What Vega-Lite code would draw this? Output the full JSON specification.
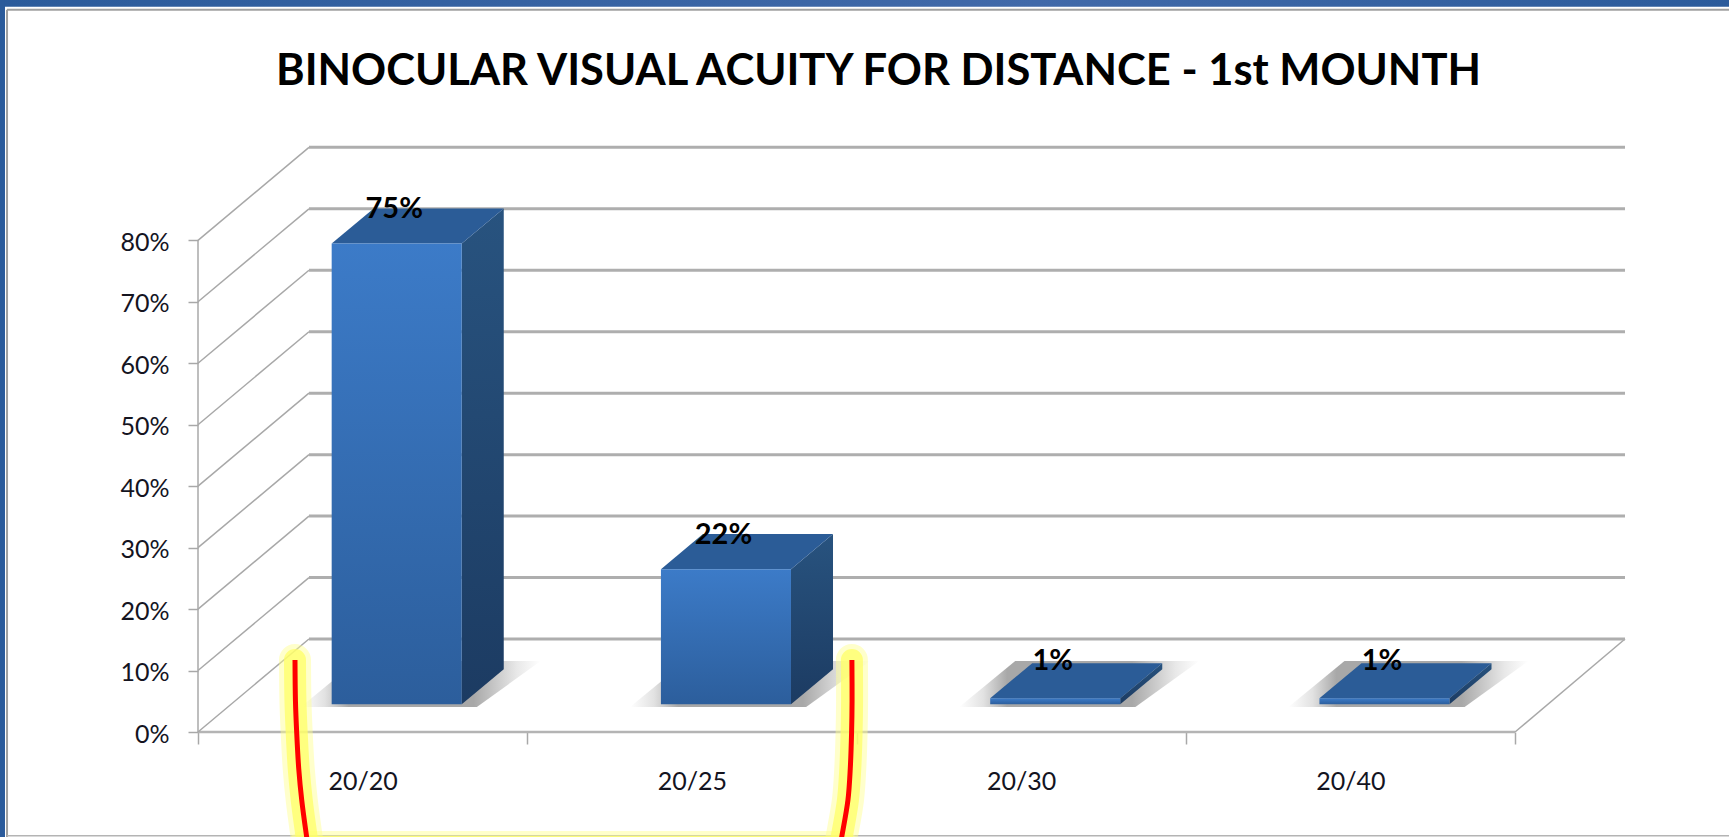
{"$schema":"https://vega.github.io/schema/vega-lite/v6.json","width":1427,"height":586,"autosize":"none","padding":{"left":198,"top":146,"right":104,"bottom":105},"background":"#ffffff","title":{"text":"BINOCULAR VISUAL ACUITY FOR DISTANCE - 1st MOUNTH","anchor":"start","frame":"group","dx":78,"offset":-128,"baseline":"alphabetic","font":"Lato","fontSize":43.5,"fontWeight":"bold","color":"#000000"},"datasets":{"bars":[{"category":"20/20","value":75},{"category":"20/25","value":22},{"category":"20/30","value":1},{"category":"20/40","value":1}],"levels":[{"level":0},{"level":10},{"level":20},{"level":30},{"level":40},{"level":50},{"level":60},{"level":70},{"level":80}],"bracket":[{"s":"left","o":1,"u":0.2946,"p":11.7},{"s":"left","o":2,"u":0.296,"p":5},{"s":"left","o":3,"u":0.2998,"p":-0.16},{"s":"left","o":4,"u":0.306,"p":-6},{"s":"left","o":5,"u":0.315,"p":-11.06},{"s":"left","o":6,"u":0.33,"p":-17.08},{"s":"left","o":7,"u":0.338,"p":-20},{"s":"bottom","o":1,"u":0.32,"p":-18.7},{"s":"bottom","o":2,"u":1.96,"p":-18.7},{"s":"right","o":1,"u":1.986,"p":11.7},{"s":"right","o":2,"u":1.9865,"p":5},{"s":"right","o":3,"u":1.985,"p":-0.16},{"s":"right","o":4,"u":1.981,"p":-6},{"s":"right","o":5,"u":1.974,"p":-11.06},{"s":"right","o":6,"u":1.955,"p":-17.08},{"s":"right","o":7,"u":1.945,"p":-20}]},"layer":[{"data":{"values":[{}]},"mark":{"type":"rect","color":{"gradient":"linear","x1":0,"x2":1,"y1":0,"y2":0,"stops":[{"offset":0,"color":"#2b5b9b"},{"offset":0.6,"color":"#4169a9"},{"offset":1,"color":"#2b5b9b"}]}},"encoding":{"x":{"datum":-0.6014,"type":"quantitative","scale":{"domain":[0,4.334]}},"x2":{"datum":4.65},"y":{"datum":119.1,"type":"quantitative","scale":{"domain":[0,95.35]}},"y2":{"datum":118}}},{"data":{"values":[{}]},"mark":{"type":"rect","color":"#2b5b9b"},"encoding":{"x":{"datum":-0.6014,"type":"quantitative","scale":{"domain":[0,4.334]}},"x2":{"datum":-0.5862},"y":{"datum":119.1,"type":"quantitative","scale":{"domain":[0,95.35]}},"y2":{"datum":-17.1}}},{"data":{"values":[{}]},"mark":{"type":"rule","color":"#a0a0a0","strokeWidth":2},"encoding":{"x":{"datum":-0.58,"type":"quantitative","scale":{"domain":[0,4.334]}},"x2":{"datum":4.65},"y":{"datum":117.5,"type":"quantitative","scale":{"domain":[0,95.35]}}}},{"data":{"values":[{}]},"mark":{"type":"rule","color":"#a0a0a0","strokeWidth":2},"encoding":{"x":{"datum":-0.58,"type":"quantitative","scale":{"domain":[0,4.334]}},"y":{"datum":117.5,"type":"quantitative","scale":{"domain":[0,95.35]}},"y2":{"datum":-17.1}}},{"data":{"values":[{}]},"mark":{"type":"rule","color":"#b4b4b4","strokeWidth":1.5},"encoding":{"x":{"datum":-0.58,"type":"quantitative","scale":{"domain":[0,4.334]}},"x2":{"datum":4.65},"y":{"datum":-16.9,"type":"quantitative","scale":{"domain":[0,95.35]}}}},{"data":{"values":[{}]},"mark":{"type":"rule","color":"#a8a8a8","strokeWidth":1.5},"encoding":{"x":{"datum":0,"type":"quantitative","scale":{"domain":[0,4.334]},"axis":{"values":[0,1,2,3,4],"title":null,"grid":false,"domain":false,"tickColor":"#a8a8a8","tickWidth":1.5,"tickSize":12,"labelExpr":"['20/20','20/25','20/30','20/40',''][datum.value]","labelOffset":164.6,"labelPadding":37,"labelBaseline":"middle","labelFontSize":25,"labelFont":"Lato","labelColor":"#14141f","labelFlush":false,"labelBound":false,"labelOverlap":false}},"y":{"datum":0,"type":"quantitative","scale":{"domain":[0,95.35]},"axis":{"values":[0,10,20,30,40,50,60,70,80],"title":null,"grid":false,"domain":false,"tickColor":"#a8a8a8","tickWidth":1.5,"tickSize":10,"labelExpr":"datum.value + '%'","labelPadding":19,"labelOffset":2,"labelFontSize":25,"labelFont":"Lato","labelColor":"#14141f","labelFlush":false,"labelBound":false,"labelOverlap":false}},"y2":{"datum":80}}},{"data":{"values":[{}]},"mark":{"type":"rule","color":"#b4b4b4","strokeWidth":2.5},"encoding":{"x":{"datum":0,"type":"quantitative","scale":{"domain":[0,4.334]}},"x2":{"datum":4},"y":{"datum":0,"type":"quantitative","scale":{"domain":[0,95.35]}}}},{"data":{"values":[{}]},"mark":{"type":"rule","color":"#a8a8a8","strokeWidth":1.5},"encoding":{"x":{"datum":4,"type":"quantitative","scale":{"domain":[0,4.334]}},"x2":{"datum":4.334},"y":{"datum":0,"type":"quantitative","scale":{"domain":[0,95.35]}},"y2":{"datum":15.13}}},{"data":{"name":"levels"},"transform":[{"calculate":"datum.level + 15.13","as":"back"}],"mark":{"type":"rule","color":"#a8a8a8","strokeWidth":1.5},"encoding":{"x":{"datum":0,"type":"quantitative","scale":{"domain":[0,4.334]}},"x2":{"datum":0.337},"y":{"field":"level","type":"quantitative","scale":{"domain":[0,95.35]}},"y2":{"field":"back"}}},{"data":{"name":"levels"},"transform":[{"calculate":"datum.level + 15.13","as":"back"}],"mark":{"type":"rule","color":"#aeaeae","strokeWidth":3},"encoding":{"x":{"datum":0.337,"type":"quantitative","scale":{"domain":[0,4.334]}},"x2":{"datum":4.334},"y":{"field":"back","type":"quantitative","scale":{"domain":[0,95.35]}}}},{"data":{"name":"bars"},"transform":[{"calculate":"indexof(['20/20','20/25','20/30','20/40'], datum.category)","as":"i"},{"calculate":"[0,1]","as":"d"},{"flatten":["d"]},{"calculate":"datum.i + 0.406 - 0.094 + datum.d * 0.17","as":"sl"},{"calculate":"datum.i + 0.801 + 0.046 + datum.d * 0.194","as":"sr"},{"calculate":"4.07 + datum.d * 7.48","as":"sy"}],"mark":{"type":"area","orient":"horizontal","color":{"gradient":"linear","x1":0,"x2":1,"y1":0,"y2":0,"stops":[{"offset":0,"color":"#ffffff"},{"offset":0.1,"color":"#e2e2e2"},{"offset":0.2,"color":"#a8a8a8"},{"offset":0.72,"color":"#a8a8a8"},{"offset":0.9,"color":"#e8e8e8"},{"offset":1,"color":"#ffffff"}]}},"encoding":{"detail":{"field":"category"},"y":{"field":"sy","type":"quantitative","scale":{"domain":[0,95.35]}},"x":{"field":"sl","type":"quantitative","scale":{"domain":[0,4.334]}},"x2":{"field":"sr"}}},{"data":{"name":"bars"},"transform":[{"calculate":"indexof(['20/20','20/25','20/30','20/40'], datum.category)","as":"i"},{"calculate":"[0,1]","as":"d"},{"flatten":["d"]},{"calculate":"datum.i + 0.801 + datum.d * 0.1276","as":"sx"},{"calculate":"4.5 + datum.d * 5.7","as":"lo"},{"calculate":"datum.value + 4.5 + datum.d * 5.7","as":"hi"}],"mark":{"type":"area","color":{"gradient":"linear","x1":0,"x2":0,"y1":0,"y2":1,"stops":[{"offset":0,"color":"#28537f"},{"offset":1,"color":"#1c3b62"}]}},"encoding":{"detail":{"field":"category"},"x":{"field":"sx","type":"quantitative","scale":{"domain":[0,4.334]}},"y":{"field":"hi","type":"quantitative","scale":{"domain":[0,95.35]}},"y2":{"field":"lo"}}},{"data":{"name":"bars"},"transform":[{"calculate":"indexof(['20/20','20/25','20/30','20/40'], datum.category)","as":"i"},{"calculate":"[0,1]","as":"d"},{"flatten":["d"]},{"calculate":"datum.i + 0.406 + datum.d * 0.1276","as":"tl"},{"calculate":"datum.i + 0.801 + datum.d * 0.1276","as":"tr"},{"calculate":"datum.value + 4.5 + datum.d * 5.7","as":"ty"}],"mark":{"type":"area","orient":"horizontal","color":"#2b5c97"},"encoding":{"detail":{"field":"category"},"y":{"field":"ty","type":"quantitative","scale":{"domain":[0,95.35]}},"x":{"field":"tl","type":"quantitative","scale":{"domain":[0,4.334]}},"x2":{"field":"tr"}}},{"data":{"name":"bars"},"transform":[{"calculate":"indexof(['20/20','20/25','20/30','20/40'], datum.category)","as":"i"},{"calculate":"datum.i + 0.406","as":"l"},{"calculate":"datum.i + 0.801","as":"r"},{"calculate":"datum.value + 4.5","as":"top"}],"mark":{"type":"rect","color":{"gradient":"linear","x1":0,"x2":0,"y1":0,"y2":1,"stops":[{"offset":0,"color":"#3c7bc8"},{"offset":1,"color":"#2c5e9c"}]}},"encoding":{"x":{"field":"l","type":"quantitative","scale":{"domain":[0,4.334]}},"x2":{"field":"r"},"y":{"field":"top","type":"quantitative","scale":{"domain":[0,95.35]}},"y2":{"datum":4.5}}},{"data":{"name":"bars"},"transform":[{"calculate":"indexof(['20/20','20/25','20/30','20/40'], datum.category)","as":"i"},{"calculate":"datum.i + 0.596","as":"l"},{"calculate":"datum.value + (datum.value > 20 ? 10.1 : 10.6)","as":"ly"},{"calculate":"datum.value + '%'","as":"label"}],"mark":{"type":"text","font":"Lato","fontSize":29,"fontWeight":"bold","color":"#000000","baseline":"middle"},"encoding":{"x":{"field":"l","type":"quantitative","scale":{"domain":[0,4.334]}},"y":{"field":"ly","type":"quantitative","scale":{"domain":[0,95.35]}},"text":{"field":"label"}}},{"data":{"name":"bracket"},"mark":{"type":"line","color":"#ffff8c","strokeWidth":32,"interpolate":"catmull-rom","opacity":0.45,"strokeCap":"round"},"encoding":{"detail":{"field":"s"},"order":{"field":"o"},"x":{"field":"u","type":"quantitative","scale":{"domain":[0,4.334]}},"y":{"field":"p","type":"quantitative","scale":{"domain":[0,95.35]}}}},{"data":{"name":"bracket"},"mark":{"type":"line","color":"#ffff66","strokeWidth":22,"interpolate":"catmull-rom","opacity":0.75,"strokeCap":"round"},"encoding":{"detail":{"field":"s"},"order":{"field":"o"},"x":{"field":"u","type":"quantitative","scale":{"domain":[0,4.334]}},"y":{"field":"p","type":"quantitative","scale":{"domain":[0,95.35]}}}},{"data":{"name":"bracket"},"transform":[{"filter":"datum.s != 'bottom'"}],"mark":{"type":"line","color":"#ff0000","strokeWidth":5,"interpolate":"catmull-rom"},"encoding":{"detail":{"field":"s"},"order":{"field":"o"},"x":{"field":"u","type":"quantitative","scale":{"domain":[0,4.334]}},"y":{"field":"p","type":"quantitative","scale":{"domain":[0,95.35]}}}}],"config":{"view":{"stroke":null}}}
